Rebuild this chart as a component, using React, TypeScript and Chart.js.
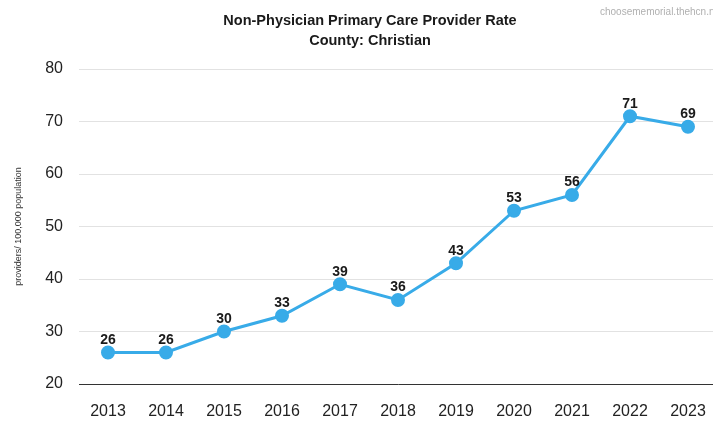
import React, { useEffect, useRef } from "react";
import { Chart, registerables } from "chart.js";

Chart.register(...registerables);

const years = ["2013", "2014", "2015", "2016", "2017", "2018", "2019", "2020", "2021", "2022", "2023"];
const rates = [26, 26, 30, 33, 39, 36, 43, 53, 56, 71, 69];
const titleLines = ["Non-Physician Primary Care Provider Rate", "County: Christian"];
const yAxisTitle = "providers/ 100,000 population";
const watermark = "choosememorial.thehcn.net";

const LINE_COLOR = "#38abe8";
const FONT = "'Liberation Sans', Arial, sans-serif";

const labelsPlugin = {
  id: "pointLabels",
  afterDatasetsDraw(chart: any) {
    const ctx = chart.ctx;
    const meta = chart.getDatasetMeta(0);
    ctx.save();
    ctx.font = `bold 14px ${FONT}`;
    ctx.fillStyle = "#1a1a1a";
    ctx.textAlign = "center";
    ctx.textBaseline = "middle";
    meta.data.forEach((pt: any, i: number) => {
      ctx.fillText(String(rates[i]), pt.x, pt.y - 12.5);
    });
    ctx.restore();
  },
};

const headerPlugin = {
  id: "header",
  afterDraw(chart: any) {
    const ctx = chart.ctx;
    ctx.save();
    ctx.font = `bold 14.5px ${FONT}`;
    ctx.fillStyle = "#1a1a1a";
    ctx.textAlign = "center";
    ctx.textBaseline = "middle";
    titleLines.forEach((line, i) => ctx.fillText(line, 370, 21 + i * 20));
    ctx.font = `10px ${FONT}`;
    ctx.fillStyle = "#b0b0b0";
    ctx.textAlign = "left";
    ctx.fillText(watermark, 600, 12);
    ctx.restore();
  },
};

export default function App() {
  const ref = useRef<HTMLCanvasElement>(null);
  useEffect(() => {
    if (!ref.current) return;
    const chart = new Chart(ref.current, {
      type: "line",
      data: {
        labels: years,
        datasets: [
          {
            data: rates,
            borderColor: LINE_COLOR,
            backgroundColor: LINE_COLOR,
            pointBackgroundColor: LINE_COLOR,
            pointBorderColor: LINE_COLOR,
            pointRadius: 5.5,
            borderWidth: 3,
            tension: 0,
            fill: false,
          },
        ],
      },
      options: {
        responsive: false,
        animation: false,
        layout: { padding: { right: 23, bottom: 0, left: 0, top: 69 } },
        plugins: {
          legend: { display: false },
          tooltip: { enabled: false },
          title: { display: false },
        },
        scales: {
          x: {
            offset: true,
            grid: { display: false, drawTicks: false },
            border: { display: true, color: "#333333", width: 1 },
            ticks: {
              color: "#222222",
              font: { family: FONT, size: 16 },
              padding: 18,
              maxRotation: 0,
            },
            afterFit(scale: any) {
              scale.height = 37;
            },
          },
          y: {
            min: 20,
            max: 80,
            border: { display: false },
            grid: { color: "#e2e2e2", drawTicks: false, lineWidth: 1 },
            ticks: {
              stepSize: 10,
              color: "#222222",
              font: { family: FONT, size: 16 },
              padding: 16,
            },
            title: {
              display: true,
              text: yAxisTitle,
              color: "#333333",
              font: { family: FONT, size: 9 },
              padding: { top: 13, bottom: 0 },
            },
            afterFit(scale: any) {
              scale.width = 79;
            },
          },
        },
      },
      plugins: [labelsPlugin, headerPlugin],
    });
    return () => chart.destroy();
  }, []);
  return (
    <div style={{ position: "absolute", left: 0, top: 0, width: 713, height: 421, overflow: "hidden", background: "#fff" }}>
      <canvas ref={ref} width={740} height={421} style={{ display: "block" }} />
    </div>
  );
}
